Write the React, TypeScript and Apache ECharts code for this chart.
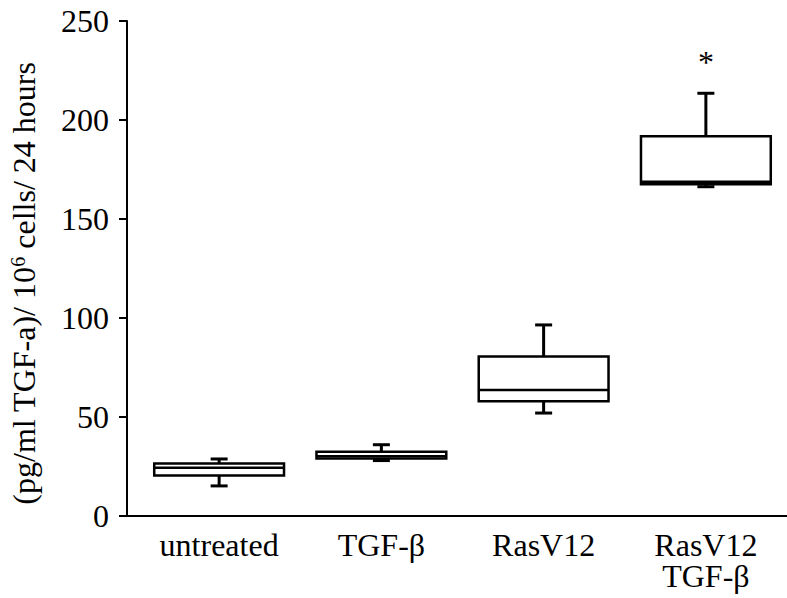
import React, { useEffect, useRef } from "react";
import * as echarts from "echarts";

const categories = ["untreated", "TGF-β", "RasV12", "RasV12\nTGF-β"];
const mins = [15.2, 28, 52, 166.3];
const q1s = [20.5, 29, 58, 167.5];
const medians = [24.4, 30.2, 63.6, 168.8];
const q3s = [26.5, 32.5, 80.5, 191.8];
const maxs = [28.8, 36, 96.5, 213.5];
const starCategory = 3;
const starValue = 229.5;
const yMin = 0;
const yMax = 250;
const yInterval = 50;

const FONT = "Liberation Serif";

export default function App() {
  const ref = useRef<HTMLDivElement>(null);
  useEffect(() => {
    if (!ref.current) return;
    const chart = echarts.init(ref.current, undefined, { renderer: "svg" });
    const boxData = categories.map((_, i) => [i, mins[i], q1s[i], medians[i], q3s[i], maxs[i]]);
    chart.setOption({
      animation: false,
      backgroundColor: "#fff",
      grid: { left: 138, width: 656, top: 21, bottom: 82 },
      xAxis: {
        type: "category",
        data: categories,
        boundaryGap: true,
        axisLine: { show: true, lineStyle: { color: "#000", width: 2 } },
        axisTick: { show: false },
        axisLabel: { color: "#000", fontFamily: FONT, fontSize: 32, margin: 13, lineHeight: 31 },
        splitLine: { show: false },
      },
      yAxis: {
        type: "value",
        min: yMin,
        max: yMax,
        interval: yInterval,
        offset: 11,
        axisLine: { show: true, lineStyle: { color: "#000", width: 2 } },
        axisTick: { show: true, inside: false, length: 8, lineStyle: { color: "#000", width: 2 } },
        axisLabel: { color: "#000", fontFamily: FONT, fontSize: 32, margin: 18 },
        splitLine: { show: false },
        name: "(pg/ml TGF-a)/ 10{sup|6} cells/ 24 hours",
        nameLocation: "middle",
        nameGap: 87,
        nameTextStyle: {
          color: "#000",
          fontFamily: FONT,
          fontSize: 32,
          padding: [0, 30, 0, 0],
          rich: {
            sup: { fontFamily: FONT, fontSize: 20, color: "#000", verticalAlign: "top", padding: [0, 0, 12, 0] },
          },
        },
      },
      graphic: [
        { type: "line", shape: { x1: 126, y1: 516, x2: 140, y2: 516 }, style: { stroke: "#000", lineWidth: 2 } },
      ],
      series: [
        {
          type: "custom",
          data: boxData,
          encode: { x: 0, y: [1, 2, 3, 4, 5] },
          renderItem: (params: any, api: any) => {
            const i = api.value(0);
            const x = api.coord([i, 0])[0];
            const bw = api.size([1, 0])[0] * 0.8;
            const yMinP = api.coord([i, api.value(1)])[1];
            const yQ1 = api.coord([i, api.value(2)])[1];
            const yMed = api.coord([i, api.value(3)])[1];
            const yQ3 = api.coord([i, api.value(4)])[1];
            const yMaxP = api.coord([i, api.value(5)])[1];
            const capW = 17;
            const st = { stroke: "#000", lineWidth: 3, fill: null };
            return {
              type: "group",
              children: [
                { type: "line", shape: { x1: x, y1: yQ3, x2: x, y2: yMaxP }, style: st },
                { type: "line", shape: { x1: x - capW / 2, y1: yMaxP, x2: x + capW / 2, y2: yMaxP }, style: st },
                { type: "line", shape: { x1: x, y1: yQ1, x2: x, y2: yMinP }, style: st },
                { type: "line", shape: { x1: x - capW / 2, y1: yMinP, x2: x + capW / 2, y2: yMinP }, style: st },
                {
                  type: "rect",
                  shape: { x: x - bw / 2, y: yQ3, width: bw, height: yQ1 - yQ3 },
                  style: { fill: "#fff", stroke: "#000", lineWidth: 2.5 },
                },
                { type: "line", shape: { x1: x - bw / 2, y1: yMed, x2: x + bw / 2, y2: yMed }, style: { stroke: "#000", lineWidth: 2.5 } },
              ],
            };
          },
        },
        {
          type: "custom",
          data: [[starCategory, starValue]],
          encode: { x: 0, y: 1 },
          renderItem: (params: any, api: any) => {
            const p = api.coord([api.value(0), api.value(1)]);
            return {
              type: "text",
              x: p[0],
              y: p[1],
              style: { text: "*", fill: "#000", font: `32px ${FONT}`, align: "center", verticalAlign: "middle" },
            };
          },
        },
      ],
    });
    return () => chart.dispose();
  }, []);
  return <div ref={ref} style={{ position: "absolute", left: 0, top: 0, width: 787, height: 598 }} />;
}
